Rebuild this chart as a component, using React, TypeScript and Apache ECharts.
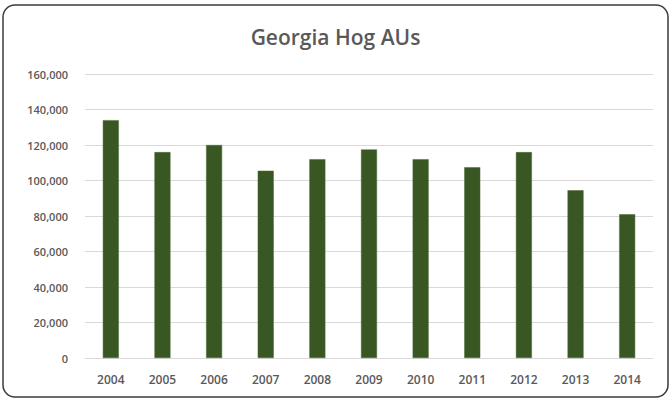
import React, { useEffect, useRef } from "react";
import * as echarts from "echarts";

const years = ["2004", "2005", "2006", "2007", "2008", "2009", "2010", "2011", "2012", "2013", "2014"];
const hogAUs = [134000, 116000, 120000, 105500, 112000, 117500, 112000, 107500, 116000, 94500, 81000];
const yTicks = { min: 0, max: 160000, interval: 20000 };

export default function App() {
  const ref = useRef<HTMLDivElement>(null);

  useEffect(() => {
    if (!ref.current) return;
    const chart = echarts.init(ref.current, undefined, { renderer: "svg" });
    chart.setOption({
      animation: false,
      backgroundColor: "#ffffff",
      title: {
        text: "Georgia Hog AUs",
        left: "center",
        top: 21,
        textStyle: {
          fontFamily: "Open Sans",
          fontSize: 21,
          fontWeight: 600,
          color: "#595959",
        },
      },
      graphic: [
        {
          type: "rect",
          shape: { x: 3, y: 5, width: 665, height: 392, r: 12 },
          style: { fill: "none", stroke: "#3a3a3a", lineWidth: 1.5 },
          silent: true,
        },
      ],
      grid: { left: 85, right: 18, top: 74, bottom: 42 },
      xAxis: {
        type: "category",
        data: years,
        axisTick: { show: false },
        axisLine: { lineStyle: { color: "#d9d9d9" } },
        axisLabel: {
          color: "#595959",
          fontFamily: "Open Sans",
          fontSize: 12,
          fontWeight: 600,
          margin: 15,
        },
      },
      yAxis: {
        type: "value",
        min: yTicks.min,
        max: yTicks.max,
        interval: yTicks.interval,
        axisLine: { show: false },
        axisTick: { show: false },
        splitLine: { lineStyle: { color: "#d9d9d9", width: 1 } },
        axisLabel: {
          color: "#595959",
          fontFamily: "Open Sans",
          fontSize: 11,
          fontWeight: 600,
          margin: 17,
          formatter: (v: number) => v.toLocaleString("en-US"),
        },
      },
      series: [
        {
          type: "bar",
          data: hogAUs,
          barWidth: 16,
          itemStyle: { color: "#385723", borderColor: "#4a6a35", borderWidth: 0.5 },
        },
      ],
    });
    return () => chart.dispose();
  }, []);

  return <div ref={ref} style={{ width: 671, height: 400, position: "absolute", left: 0, top: 0 }} />;
}
